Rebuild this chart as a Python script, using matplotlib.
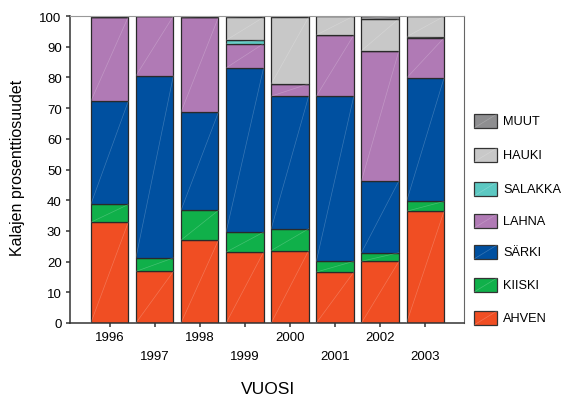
import matplotlib
matplotlib.use("Agg")
import matplotlib.pyplot as plt
from matplotlib.patches import Rectangle
import numpy as np

plt.rcParams['font.family'] = ['Liberation Sans', 'DejaVu Sans']

years = ['1996', '1997', '1998', '1999', '2000', '2001', '2002', '2003']
species = ['AHVEN', 'KIISKI', 'SÄRKI', 'LAHNA', 'SALAKKA', 'HAUKI', 'MUUT']
ahven = [32.8, 16.8, 27.0, 23.1, 23.6, 16.6, 20.1, 36.4]
kiiski = [5.8, 4.4, 9.7, 6.5, 7.1, 3.5, 2.8, 3.2]
sarki = [33.6, 59.3, 32.0, 53.5, 43.2, 53.8, 23.4, 40.2]
lahna = [27.5, 19.5, 30.9, 7.9, 4.0, 19.9, 42.4, 13.1]
salakka = [0.0, 0.0, 0.0, 1.1, 0.0, 0.0, 0.0, 0.3]
hauki = [0.0, 0.0, 0.0, 7.5, 21.8, 6.2, 10.4, 6.7]
muut = [0.3, 0.0, 0.4, 0.4, 0.3, 0.0, 0.9, 0.1]

series = [ahven, kiiski, sarki, lahna, salakka, hauki, muut]
colors = ['#F04E23', '#10B04A', '#0050A0', '#B07AB5', '#5CC8C2', '#C8C8C8', '#8E8E90']

W, H = 569, 402
fig = plt.figure(figsize=(W / 100, H / 100), dpi=100)
ax = fig.add_axes([70 / W, 1 - 324 / H, (464 - 70) / W, (324 - 17) / H])

x = np.arange(len(years))
bottom = np.zeros(len(years))
for vals, col in zip(series, colors):
    vals = np.array(vals)
    bars = ax.bar(x, vals, width=0.83, bottom=bottom, color=col,
                  edgecolor='#2a2a2a', linewidth=0.9, zorder=2)
    # faint diagonal sheen across each segment
    for b in bars:
        if b.get_height() > 0:
            x0, y0 = b.get_x(), b.get_y()
            ax.plot([x0, x0 + b.get_width()], [y0, y0 + b.get_height()],
                    color='white', alpha=0.22, linewidth=0.5, zorder=3)
    bottom += vals

ax.set_xlim(-0.876, 7.858)
ax.set_ylim(0, 100)
ax.set_yticks(np.arange(0, 101, 10))
ax.set_yticklabels([str(v) for v in range(0, 101, 10)], fontsize=9.5)
ax.set_xticks(x)
ax.set_xticklabels([y if i % 2 == 0 else '\n' + y for i, y in enumerate(years)],
                   fontsize=9.5, linespacing=1.75)
ax.tick_params(axis='both', direction='out', length=3, width=1.1, color='#333333',
               pad=3)
for s in ax.spines.values():
    s.set_color('#666666')
    s.set_linewidth(0.8)
ax.spines['top'].set_color('#999999')
ax.spines['left'].set_color('#333333')
ax.spines['left'].set_linewidth(1.1)
ax.spines['bottom'].set_color('#333333')
ax.spines['bottom'].set_linewidth(1.1)

fig.text(18 / W, 1 - 168 / H, 'Kalajen prosenttiosuudet', rotation=90,
         ha='center', va='center', fontsize=11.5)
fig.text(268 / W, 1 - 390 / H, 'VUOSI', ha='center', va='center', fontsize=12.5)

# legend, top entry first
leg_y = [122, 156, 190, 222, 253, 286, 319]
for name, col, yy in zip(species[::-1], colors[::-1], leg_y):
    r = Rectangle((474 / W, 1 - (yy + 7) / H), 23 / W, 14 / H,
                  transform=fig.transFigure, facecolor=col,
                  edgecolor='#333333', linewidth=0.9)
    fig.add_artist(r)
    fig.add_artist(plt.Line2D([474 / W, 497 / W], [1 - (yy + 7) / H, 1 - (yy - 7) / H],
                              transform=fig.transFigure, color='white', alpha=0.22,
                              linewidth=0.5))
    fig.text(503 / W, 1 - yy / H, name, ha='left', va='center', fontsize=9.2)

fig.savefig('out.png', dpi=100)
